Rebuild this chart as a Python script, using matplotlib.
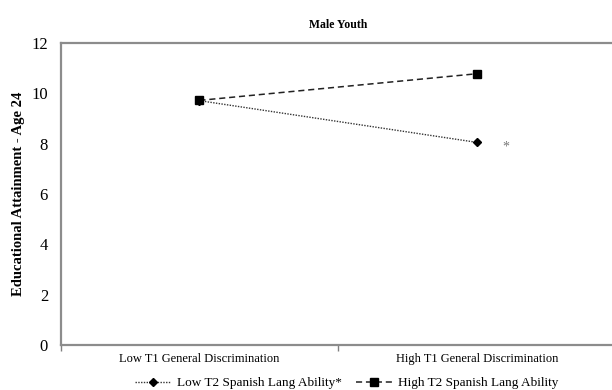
import matplotlib
matplotlib.use("Agg")
import matplotlib.pyplot as plt

plt.rcParams["font.family"] = ["Liberation Serif", "DejaVu Serif"]
plt.rcParams["figure.dpi"] = 100

# data
categories = ["Low T1 General Discrimination", "High T1 General Discrimination"]
low_spanish = [9.71, 8.05]
high_spanish = [9.72, 10.78]
series_labels = ["Low T2 Spanish Lang Ability*", "High T2 Spanish Lang Ability"]
y_ticks = [0, 2, 4, 6, 8, 10, 12]

fig = plt.figure(figsize=(6.12, 3.9))
ax = fig.add_axes([0.099, 0.1154, 0.9075, 0.7743])

x = [0.5, 1.5]
ax.plot(x, low_spanish, linestyle=(0, (1, 1)), linewidth=1.0, color="#333333",
        marker="D", markersize=4.5, markerfacecolor="black", markeredgecolor="black",
        label=series_labels[0])
ax.plot(x, high_spanish, linestyle=(0, (4, 2.5)), linewidth=1.1, color="#222222",
        marker="s", markersize=6, markerfacecolor="black", markeredgecolor="black",
        label=series_labels[1])

# significance star next to the low-ability end point
ax.text(1.605, low_spanish[1] - 0.2, "*", fontsize=10, color="#777777",
        ha="center", va="center")

ax.set_xlim(0, 2)
ax.set_ylim(0, 12)
ax.set_yticks(y_ticks)
ax.set_yticklabels([str(t) for t in y_ticks], fontsize=12)
ax.tick_params(axis="y", length=0, pad=9)

ax.set_xticks([0, 1, 2])
ax.set_xticklabels([])
ax.set_xticks(x, minor=True)
ax.set_xticklabels(categories, minor=True, fontsize=9)
ax.tick_params(axis="x", which="major", length=4, color="#808080", width=1)
ax.tick_params(axis="x", which="minor", length=0, pad=6)

for side in ["left", "bottom", "top"]:
    ax.spines[side].set_color("#8c8c8c")
    ax.spines[side].set_linewidth(1.6)
ax.spines["right"].set_visible(False)

ax.set_title("Male Youth", fontsize=8.5, fontweight="bold", pad=11)
ax.set_ylabel("Educational Attainment - Age 24", fontsize=10.5, fontweight="bold")
ax.yaxis.set_label_coords(-0.064, 0.5)

ax.legend(loc="upper center", bbox_to_anchor=(0.515, -0.085), ncol=2, frameon=False,
          fontsize=9.5, handlelength=2.7, columnspacing=1.1, handletextpad=0.45,
          borderpad=0)

fig.savefig("out.png", dpi=100, facecolor="white")
